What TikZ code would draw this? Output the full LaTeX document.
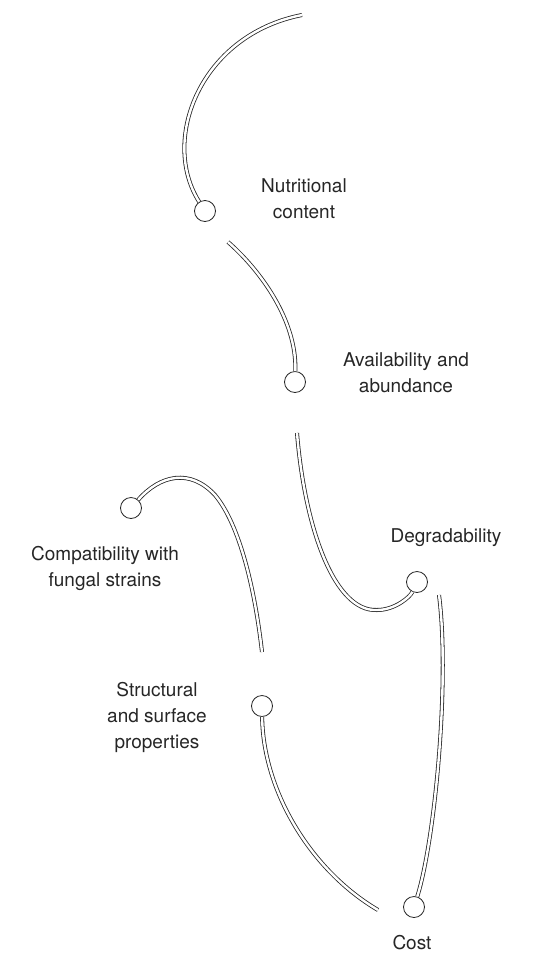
\documentclass[tikz,border=0pt]{standalone}
\usepackage{fontspec}
\setmainfont{TeX Gyre Heros}
\begin{document}
\begin{tikzpicture}[x=1pt,y=-1pt,
  tube/.style={draw=black!85,line width=0.8pt,double=white,double distance=2.4pt},
  knob/.style={circle,draw=black!85,fill=white,line width=0.8pt,minimum size=21pt,inner sep=0pt},
  lbl/.style={align=center,font=\fontsize{19}{26}\selectfont,text=black!85,inner sep=0pt}]
\useasboundingbox (0,0) rectangle (544,962);

% end points of the tubes
\node[knob] (nut) at (205,211) {};
\node[knob] (ava) at (295,382) {};
\node[knob] (deg) at (417,582) {};
\node[knob] (cost) at (414,907) {};
\node[knob] (comp) at (131,508) {};
\node[knob] (str) at (262,706) {};

% free ends
\coordinate (a0) at (302,15);
\coordinate (b0) at (228,242);
\coordinate (c0) at (297,433);
\coordinate (c1) at (377,610);
\coordinate (d0) at (439,595);
\coordinate (e1) at (215,495);
\coordinate (e2) at (262,652);
\coordinate (f1) at (378,910);

% tubes
\draw[tube] (a0) .. controls (200,35) and (160,140) .. (nut);
\draw[tube] (b0) .. controls (260,270) and (297,320) .. (ava);
\draw[tube] (c0) .. controls (305,530) and (335,612) .. (c1)
  .. controls (395,610) and (410,597) .. (deg);
\draw[tube] (d0) .. controls (450,680) and (435,840) .. (cost);
\draw[tube] (comp) .. controls (160,475) and (190,468) .. (e1)
  .. controls (240,525) and (255,590) .. (e2);
\draw[tube] (str) .. controls (263,790) and (310,870) .. (f1);

% labels
\node[lbl] (tnut) at (304,199) {Nutritional\\content};
\node[lbl] (tava) at (406,373) {Availability and\\abundance};
\node[lbl] (tdeg) at (446,538) {Degradability};
\node[lbl] (tcomp) at (105,568) {Compatibility with\\fungal strains};
\node[lbl] (tstr) at (157,717) {Structural\\and surface\\properties};
\node[lbl] (tcost) at (412,943) {Cost};
\end{tikzpicture}
\end{document}
